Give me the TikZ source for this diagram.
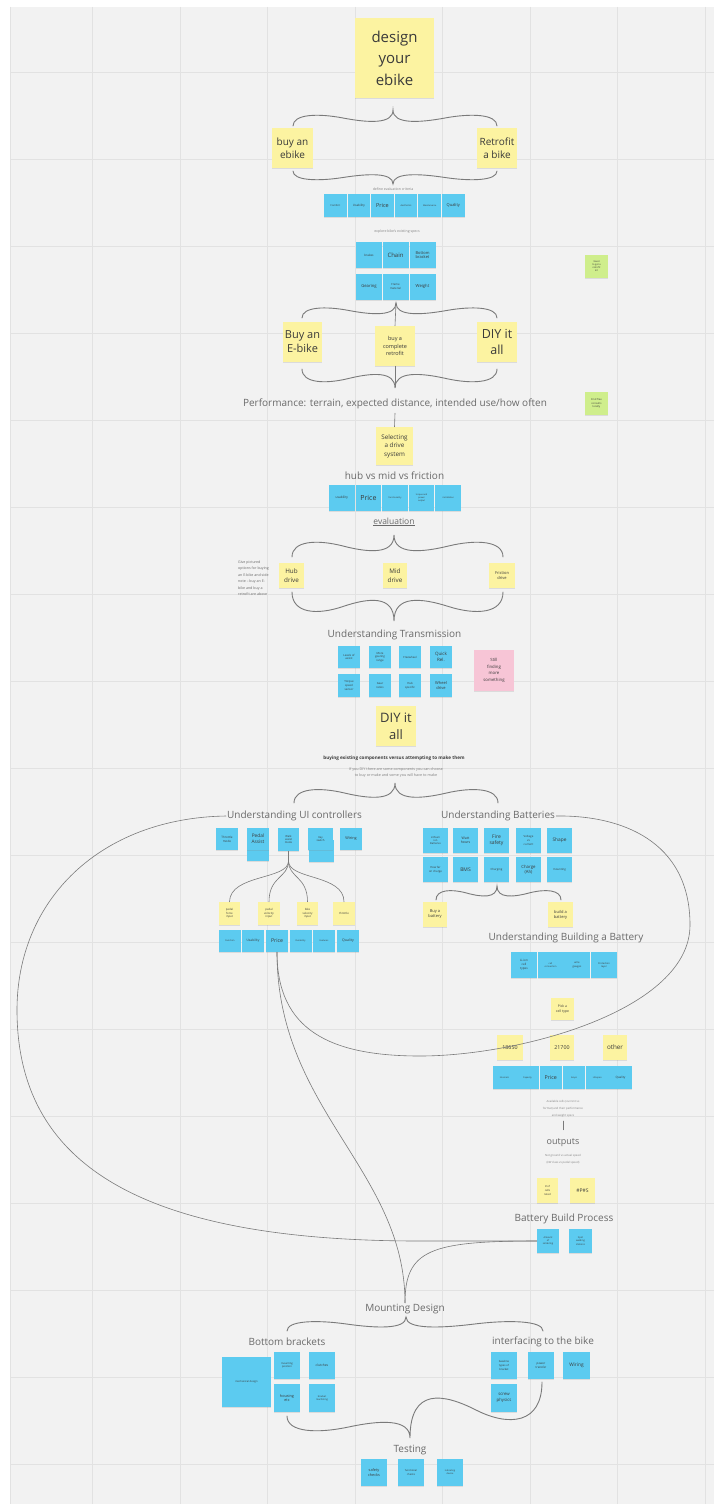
\documentclass[tikz,border=0pt]{standalone}
\usepackage{fontspec}
\setmainfont{Open Sans}
\usetikzlibrary{shadows}
\definecolor{bg}{HTML}{F2F2F2}
\definecolor{gridc}{HTML}{E2E2E2}
\definecolor{yel}{HTML}{FCF3A1}
\definecolor{blu}{HTML}{5CCBF0}
\definecolor{grn}{HTML}{CFEE8C}
\definecolor{pnk}{HTML}{F7C5D6}
\definecolor{hd}{HTML}{6A6A6A}
\definecolor{ln}{HTML}{7A7A7A}
\definecolor{tx}{HTML}{3A3A3A}
\newcommand\mybrace[6]{%
 \draw[brc] (#1,#5) .. controls (#1,{#4+0.25*(#5-#4)}) and ({#1+0.25*(#3-#1)},{#4+0.2*(#5-#4)}) .. ({#1+0.5*(#3-#1)},{#4+0.5*(#5-#4)}) .. controls ({#1+0.75*(#3-#1)},{#4+0.8*(#5-#4)}) and (#3,{#4+0.9*(#5-#4)}) .. (#3,#4) .. controls (#3,{#4+0.9*(#6-#4)}) and ({#2-0.75*(#2-#3)},{#4+0.8*(#6-#4)}) .. ({#2-0.5*(#2-#3)},{#4+0.5*(#6-#4)}) .. controls ({#2-0.25*(#2-#3)},{#4+0.2*(#6-#4)}) and (#2,{#4+0.25*(#6-#4)}) .. (#2,#6);}
\begin{document}
\begin{tikzpicture}[x=1pt,y=-1pt,
 stk/.style={inner sep=1pt, align=center, text=tx, drop shadow={shadow xshift=0pt, shadow yshift=-1.2pt, opacity=0.2}},
 ys/.style={stk, fill=yel},
 bs/.style={stk, fill=blu},
 gs/.style={stk, fill=grn},
 ps/.style={stk, fill=pnk},
 sz/.style 2 args={minimum width=#1pt, minimum height=#2pt},
 fs/.style 2 args={font=\fontsize{#1}{#2}\selectfont},
 hdg/.style={text=hd, inner sep=1pt, fs={10}{11.5}},
 tnote/.style={text=hd!85, inner sep=0.5pt, align=center},
 brc/.style={draw=ln, line width=0.9pt, line cap=round},
 conn/.style={draw=ln, line width=0.6pt, line cap=round}]
\useasboundingbox (0,0) rectangle (714,1504);
\fill[white] (0,0) rectangle (714,1504);
\fill[bg] (10,7) rectangle (714,1504);
\foreach \gx in {10,92.5,180,267.5,355,442.5,530,617.5,705} \draw[gridc, line width=0.8pt] (\gx,7) -- (\gx,1504);
\foreach \k in {0,...,16} \draw[gridc, line width=0.8pt] (10,{72+87*\k}) -- (714,{72+87*\k});

% ---------- top ----------
\node[ys,sz={79}{80},fs={15}{21.5}] (title) at (394.5,58) {design\\your\\ebike};
\mybrace{293}{497}{393}{110}{126}{126}
\node[ys,sz={41}{40},fs={10}{13.5}] (buy) at (292.5,148) {buy an\\ebike};
\node[ys,sz={40}{40},fs={10}{13.5}] (retro) at (497,148) {Retrofit\\a bike};
\mybrace{293}{497}{393}{184}{171}{171}
\node[tnote,fs={3.5}{4}] (crit) at (393,189) {define evaluation criteria};
\node[bs,sz={22.5}{23},fs={2.5}{3}] (e1) at (335.3,205.5) {Comfort};
\node[bs,sz={22.5}{23},fs={3}{3.5}] (e2) at (358.9,205.5) {Usability};
\node[bs,sz={22.5}{23},fs={5.5}{6}] (e3) at (382.5,205.5) {Price};
\node[bs,sz={22.5}{23},fs={2.3}{3}] (e4) at (406.1,205.5) {Aesthetics};
\node[bs,sz={22.5}{23},fs={2.2}{3}] (e5) at (429.7,205.5) {Maintenance};
\node[bs,sz={22.5}{23},fs={4}{4.5}] (e6) at (453.3,205.5) {Quality};
\node[tnote,fs={3.5}{4}] (spec) at (397,232) {explore bike's existing specs};
\node[bs,sz={26}{26},fs={3}{3.5}] (s1) at (369,255) {brakes};
\node[bs,sz={26}{26},fs={6}{7}] (s2) at (395.5,255) {Chain};
\node[bs,sz={26}{26},fs={4}{4.8}] (s3) at (422.5,255) {Bottom\\bracket};
\node[bs,sz={26}{26},fs={4.2}{5}] (s4) at (369,286.5) {Gearing};
\node[bs,sz={26}{26},fs={2.8}{3.4}] (s5) at (395.5,286.5) {Frame\\material};
\node[bs,sz={26}{26},fs={4.2}{5}] (s6) at (422.5,286.5) {Weight};
\node[gs,sz={23}{23},fs={2.4}{3}] (g1) at (596.5,266.5) {Need\\to get a\\retrofit\\kit};
\node[gs,sz={23}{23},fs={2.6}{3.2}] (g2) at (596.5,403.5) {Find free\\consults\\locally};

\mybrace{302}{497}{396}{303}{318}{318}
\node[ys,sz={39}{40},fs={11}{14}] (buye) at (302.5,342) {Buy an\\E-bike};
\node[ys,sz={40}{40},fs={5.5}{7.5}] (kit) at (395,346) {buy a\\complete\\retrofit};
\node[ys,sz={40}{40},fs={12.5}{16}] (diy1) at (497,342) {DIY it\\all};
\draw[conn] (396,303) -- (kit.north);
\draw[conn] (kit.south) -- (395,387);
\mybrace{302}{497}{395}{388}{369}{369}
\node[hdg] (perf) at (395,404) {Performance: terrain, expected distance, intended use/how often};
\node[ys,sz={37}{38},fs={6.3}{8.5}] (drive) at (394.5,446) {Selecting\\a drive\\system};
\draw[conn] (perf.south) ++(0,3) -- (drive.north);
\node[hdg] (hmf) at (394.5,476) {hub vs mid vs friction};
\node[bs,sz={25.6}{26},fs={3.2}{4}] (v1) at (341.8,498) {usability};
\node[bs,sz={25.6}{26},fs={7}{8}] (v2) at (368.4,498) {Price};
\node[bs,sz={25.6}{26},fs={2.2}{3}] (v3) at (395,498) {functionality};
\node[bs,sz={25.6}{26},fs={2.2}{2.8}] (v4) at (421.6,498) {torque and\\power\\output};
\node[bs,sz={25.6}{26},fs={2.2}{3}] (v5) at (448.2,498) {installation};
\node[hdg,fs={8.5}{10}] (eval) at (394,522) {\underline{evaluation}};
\mybrace{292}{503}{394}{535}{557}{557}
\node[tnote,fs={3.6}{6.5},align=left,text=hd] (side) at (253.5,578) {Give pictured\\options for buying\\an E-bike and side\\note -- buy an E-\\bike and buy a\\retrofit are above};
\node[ys,sz={25}{25},fs={6.3}{8.5}] (hub) at (291.5,575.5) {Hub\\drive};
\node[ys,sz={24}{25},fs={6.3}{8.5}] (mid) at (395,575.5) {Mid\\drive};
\node[ys,sz={26}{25},fs={4}{5.5}] (fric) at (502,575.5) {Friction\\drive};
\mybrace{292}{503}{394}{621}{592}{592}
\node[hdg] (trans) at (394.5,635) {Understanding Transmission};
\node[bs,sz={22}{22.5},fs={2.8}{3.6}] (t1) at (349,657) {Levels of\\assist};
\node[bs,sz={22}{22.5},fs={2.8}{3.6}] (t2) at (380,657) {More\\gearing\\range};
\node[bs,sz={22}{22.5},fs={2.8}{3.6}] (t3) at (410,657) {Freewheel};
\node[bs,sz={22}{22.5},fs={4.5}{5.5}] (t4) at (441,657) {Quick\\Rel.};
\node[bs,sz={22}{22.5},fs={2.8}{3.6}] (t5) at (349,685.5) {Torque\\speed\\sensor};
\node[bs,sz={22}{22.5},fs={2.8}{3.6}] (t6) at (380,685.5) {Gear\\ratios};
\node[bs,sz={22}{22.5},fs={2.8}{3.6}] (t7) at (410,685.5) {Hub\\specific};
\node[bs,sz={22}{22.5},fs={4}{5}] (t8) at (441,685.5) {Wheel\\drive};
\node[ps,sz={40}{41},fs={4.3}{6.5}] (still) at (494,670.5) {Still\\finding\\more\\something};
\node[ys,sz={40}{40},fs={13}{17}] (diy2) at (396,726) {DIY it\\all};
\node[tnote,fs={4.6}{5.5},text=tx] (buyex) at (394,758) {\bfseries buying existing components versus attempting to make them};
\node[tnote,fs={3.7}{6}] (ifdiy) at (396,773) {If you DIY there are some components you can choose\\to buy or make and some you will have to make};
\mybrace{294}{498}{395}{783}{803}{803}

% ---------- UI controllers ----------
\node[hdg] (ui) at (294.5,816) {Understanding UI controllers};
\node[bs,sz={22}{22},fs={3}{3.8}] (u1) at (227,839) {Throttle\\mode};
\node[bs,sz={22}{22}] (u2b) at (258,850) {};
\node[bs,sz={22}{22},fs={4.8}{5.8}] (u2) at (258,839) {Pedal\\Assist};
\node[bs,sz={21}{23},fs={2.7}{3.4}] (u3) at (288.5,839.5) {Walk\\assist\\mode};
\node[bs,sz={25}{22}] (u4b) at (321,851) {};
\node[bs,sz={25}{22},fs={2.7}{3.4}] (u4) at (320.5,839) {Key\\switch};
\node[bs,sz={22}{22},fs={3.8}{4.5}] (u5) at (351,839) {Wiring};
\coordinate (tb) at (288.5,861);
\node[ys,sz={21}{23},fs={2.8}{3.6}] (y1) at (229.5,913.5) {pedal\\force\\input};
\node[ys,sz={22}{23},fs={2.8}{3.6}] (y2) at (269,913.5) {pedal\\velocity\\input};
\node[ys,sz={21}{23},fs={2.8}{3.6}] (y3) at (307.5,913.5) {bike\\velocity\\input};
\node[ys,sz={22}{23},fs={2.8}{3.6}] (y4) at (344,913.5) {throttle};
\draw[conn] (u3.south) -- (tb);
\draw[conn] (tb) .. controls (288.5,880) and (230,874) .. (y1.north);
\draw[conn] (tb) .. controls (288.5,878) and (269,876) .. (y2.north);
\draw[conn] (tb) .. controls (288.5,878) and (307.5,876) .. (y3.north);
\draw[conn] (tb) .. controls (288.5,880) and (344,874) .. (y4.north);
\node[bs,sz={22}{22},fs={2.3}{3}] (q1) at (230,941) {Function};
\node[bs,sz={22}{22},fs={3.2}{4}] (q2) at (253,941) {Usability};
\node[bs,sz={22}{22},fs={5.2}{6}] (q3) at (277,941) {Price};
\node[bs,sz={22}{22},fs={2.2}{3}] (q4) at (300.5,941) {Durability};
\node[bs,sz={22}{22},fs={2.2}{3}] (q5) at (324,941) {Features};
\node[bs,sz={22}{22},fs={3.5}{4}] (q6) at (348,941) {Quality};

% ---------- Batteries ----------
\node[hdg] (bat) at (498,816) {Understanding Batteries};
\node[bs,sz={25}{25},fs={2.6}{3.4}] (b1) at (435.5,840.5) {Lithium\\ion\\Batteries};
\node[bs,sz={25}{25},fs={3.5}{4.3}] (b2) at (465.5,840.5) {Watt\\hours};
\node[bs,sz={25}{25},fs={5}{6}] (b3) at (496.5,840.5) {Fire\\safety};
\node[bs,sz={25}{25},fs={2.8}{3.6}] (b4) at (528.5,840.5) {Voltage\\vs\\current};
\node[bs,sz={25}{25},fs={4.8}{5.5}] (b5) at (559.5,840.5) {Shape};
\node[bs,sz={25}{25},fs={2.8}{3.6}] (b6) at (435.5,869.5) {How far\\on charge};
\node[bs,sz={25}{25},fs={5}{6}] (b7) at (465.5,869.5) {BMS};
\node[bs,sz={25}{25},fs={2.8}{3.6}] (b8) at (496.5,869.5) {Charging};
\node[bs,sz={25}{25},fs={4.3}{5.2}] (b9) at (528.5,869.5) {Charge\\(Ah)};
\node[bs,sz={25}{25},fs={2.8}{3.6}] (b10) at (559.5,869.5) {mounting};
\mybrace{436}{561}{497}{886}{900}{900}
\node[ys,sz={24}{25},fs={4}{5}] (buyb) at (435,914.5) {Buy a\\battery};
\node[ys,sz={25}{25},fs={4}{5}] (buildb) at (560.5,914.5) {build a\\battery};
\node[hdg] (bld) at (566,938) {Understanding Building a Battery};
\node[bs,sz={26}{26},fs={3}{4}] (c1) at (524,965) {Li-ion\\cell\\types};
\node[bs,sz={26}{26},fs={2.3}{3}] (c2) at (550.5,965) {cell\\connection};
\node[bs,sz={26}{26},fs={2.6}{3.4}] (c3) at (577,965) {wire\\gauges};
\node[bs,sz={26}{26},fs={2.4}{3.2}] (c4) at (604,965) {Protection\\layer};
\node[ys,sz={23}{22},fs={3.4}{4.6}] (pick) at (562.5,1009) {Pick a\\cell type};
\node[ys,sz={26}{25},fs={5.3}{6}] (c18) at (510,1047.5) {18650};
\node[ys,sz={24}{25},fs={5.3}{6}] (c21) at (562,1047.5) {21700};
\node[ys,sz={24}{25},fs={6.3}{7}] (coth) at (615,1047.5) {other};
\node[bs,sz={22.5}{23},fs={2.2}{3}] (r1) at (504.3,1077.5) {Internals};
\node[bs,sz={22.5}{23},fs={2.2}{3}] (r2) at (527.5,1077.5) {Capacity};
\node[bs,sz={22.5}{23},fs={5.3}{6}] (r3) at (550.8,1077.5) {Price};
\node[bs,sz={22.5}{23},fs={2.2}{3}] (r4) at (574,1077.5) {Amps};
\node[bs,sz={22.5}{23},fs={2.2}{3}] (r5) at (597.3,1077.5) {Lifespan};
\node[bs,sz={22.5}{23},fs={3}{3.6}] (r6) at (620.5,1077.5) {Quality};
\node[tnote,fs={2.8}{7}] (avail) at (563,1109) {Available cells (current vs\\format) and their performance\\and weight specs};
\node[hdg,fs={9}{10}] (outp) at (563,1143) {outputs};
\draw[conn, shorten <=3pt, shorten >=8pt] (avail.south) -- (outp.north);
\node[tnote,fs={2.8}{7}] (notg) at (563,1159.5) {Not ground vs actual speed\\(kW class vs pedal speed)};
\node[ys,sz={21}{25},fs={2.7}{3.6}] (cells) at (547.5,1190.5) {\# of\\cells\\rated};
\node[ys,sz={25}{25},fs={5}{6}] (ps) at (582.5,1190.5) {\#P\#S};
\node[hdg] (bbp) at (564,1219) {Battery Build Process};
\node[bs,sz={22}{24},fs={2.4}{3.2}] (bb1) at (548,1241) {Amount\\of\\soldering};
\node[bs,sz={23}{24},fs={2.4}{3.2}] (bb2) at (580.5,1241) {Spot\\welding\\stations};

% ---------- Mounting / Testing ----------
\node[hdg] (mount) at (405,1309) {Mounting Design};
\draw[conn] (ui.west) .. controls (100,818) and (17,900) .. (17,1010) .. controls (17,1170) and (150,1241) .. (420,1241) -- (bb1.west);
\draw[conn] (bat.east) .. controls (620,815) and (690,840) .. (690,925) .. controls (690,1010) and (520,1056) .. (420,1056) .. controls (330,1056) and (277,1030) .. (q3.south);
\draw[conn] (q3.south) .. controls (277,1110) and (405,1170) .. (mount.north);
\draw[conn] (bb1.west) .. controls (430,1241) and (405,1250) .. (mount.north);
\mybrace{287}{543}{406}{1317}{1331}{1331}
\node[hdg] (bot) at (287,1342) {Bottom brackets};
\node[hdg] (intf) at (543,1342) {interfacing to the bike};
\node[bs,sz={49}{50},fs={2.6}{3.2}] (mech) at (246.5,1382) {mechanical design};
\node[bs,sz={26}{27},fs={2.6}{3.4}] (m1) at (287,1365.5) {mounting\\position};
\node[bs,sz={26}{27},fs={3.3}{4}] (m2) at (322,1365.5) {clutches};
\node[bs,sz={26}{28},fs={3.8}{4.8}] (m3) at (287,1398) {housing\\etc};
\node[bs,sz={26}{28},fs={2.4}{3.2}] (m4) at (322,1398) {bracket\\machining};
\node[bs,sz={26}{27},fs={2.7}{3.6}] (i1) at (504,1365.5) {baseline\\types of\\bracket};
\node[bs,sz={26}{27},fs={2.9}{3.8}] (i2) at (541,1365.5) {power\\transfer};
\node[bs,sz={27}{27},fs={4.8}{5.5}] (i3) at (576.5,1365.5) {Wiring};
\node[bs,sz={26}{28},fs={4.3}{5.4}] (i4) at (504,1398) {screw\\physics};
\mybrace{287}{542}{410}{1438}{1416}{1382}
\node[hdg] (test) at (410,1450) {Testing};
\node[bs,sz={26}{27},fs={3.8}{4.8}] (x1) at (374,1472.5) {safety\\checks};
\node[bs,sz={26}{27},fs={2.6}{3.4}] (x2) at (411,1472.5) {functional\\checks};
\node[bs,sz={26}{27},fs={2.3}{3}] (x3) at (450,1472.5) {indicating\\device};
\end{tikzpicture}
\end{document}
